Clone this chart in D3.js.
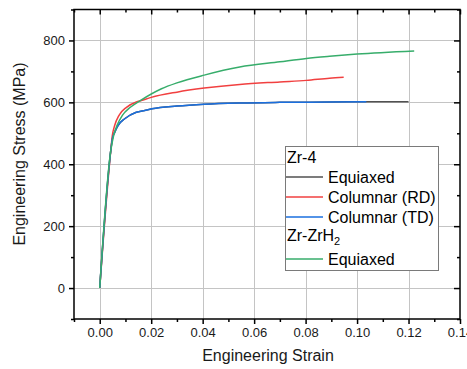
<!DOCTYPE html>
<html>
<head>
<meta charset="utf-8">
<script src="https://cdn.jsdelivr.net/npm/d3@7"></script>
<style>
	body { margin: 0; background: #fff; }
	svg { display: block; font-family: 'Liberation Sans', Arial, sans-serif; }
</style>
</head>
<body>
<div id="chart"></div>
<script>
// values
var strainEquiaxed = [0, 0.0043, 0.0049, 0.0058, 0.0071, 0.0097, 0.0142, 0.0175, 0.0203, 0.03, 0.0406, 0.0544, 0.07, 0.0893, 0.1036, 0.12];
var stressEquiaxed = [0, 445, 482, 503, 525, 547, 568, 574, 579, 588, 594, 598, 600, 601, 602, 602];
var strainRD = [0, 0.0043, 0.0049, 0.0058, 0.0075, 0.0104, 0.0142, 0.0162, 0.02, 0.03, 0.0406, 0.0544, 0.07, 0.0803, 0.0893, 0.0948];
var stressRD = [0, 445, 493, 525, 558, 584, 601, 606, 616, 633, 646, 658, 666, 671, 678, 681];
var strainTD = [0, 0.0043, 0.0049, 0.0058, 0.0071, 0.0097, 0.0142, 0.0175, 0.0203, 0.03, 0.0406, 0.0544, 0.07, 0.0893, 0.1036];
var stressTD = [0, 445, 482, 503, 525, 547, 568, 574, 579, 588, 594, 598, 600, 601, 602];
var strainHydride = [0, 0.0043, 0.0054, 0.0067, 0.0088, 0.0119, 0.0162, 0.024, 0.03, 0.0406, 0.0544, 0.07, 0.0803, 0.0893, 0.1, 0.1222];
var stressHydride = [0, 445, 493, 525, 558, 584, 608, 644, 663, 688, 714, 731, 742, 749, 756, 766];

var xMajor = [0, 0.02, 0.04, 0.06, 0.08, 0.10, 0.12, 0.14];
var xMinor = [-0.01, 0.01, 0.03, 0.05, 0.07, 0.09, 0.11, 0.13];
var yMajor = [0, 200, 400, 600, 800];
var yMinor = [-100, 100, 300, 500, 700, 900];

var width = 467, height = 369;
var box = { left: 74, right: 460, top: 9.5, bottom: 319 };

var xScale = d3.scaleLinear().domain([-0.01, 0.14]).range([box.left, box.right]);
var yScale = d3.scaleLinear().domain([-100, 900]).range([box.bottom, box.top]);

var svg = d3.select('#chart')
			.append('svg')
			.attr('width', width)
			.attr('height', height);

// grid
svg.append('g')
	.selectAll('line')
	.data(xMajor.slice(0, -1))
	.enter()
	.append('line')
	.attr('x1', function(d){ return Math.round(xScale(d)) + 0.5; })
	.attr('x2', function(d){ return Math.round(xScale(d)) + 0.5; })
	.attr('y1', box.top)
	.attr('y2', box.bottom)
	.attr('stroke', '#c4c4c4');
svg.append('g')
	.selectAll('line')
	.data(yMajor)
	.enter()
	.append('line')
	.attr('y1', function(d){ return Math.round(yScale(d)) + 0.5; })
	.attr('y2', function(d){ return Math.round(yScale(d)) + 0.5; })
	.attr('x1', box.left)
	.attr('x2', box.right)
	.attr('stroke', '#c4c4c4');

// axes, major + minor
function addAxis(axisFn, scale, values, size, transform, labels, fmt) {
	var ax = axisFn(scale).tickValues(values).tickSizeInner(size).tickSizeOuter(0);
	if (labels) ax.tickFormat(d3.format(fmt)).tickPadding(4);
	else ax.tickFormat('');
	var g = svg.append('g')
		.attr('transform', transform)
		.call(ax);
	g.select('.domain').remove();
	g.selectAll('line').attr('stroke', '#000').attr('stroke-width', 1.5);
	g.selectAll('text').attr('font-size', '13px').attr('fill', '#1a1a1a').attr('font-family', "'Liberation Sans', Arial, sans-serif");
	return g;
}
addAxis(d3.axisBottom, xScale, xMajor, 5, 'translate(0,' + box.bottom + ')', true, '.2f');
addAxis(d3.axisBottom, xScale, xMinor, 3, 'translate(0,' + box.bottom + ')', false);
addAxis(d3.axisLeft, yScale, yMajor, 5, 'translate(' + box.left + ',0)', true, 'd');
addAxis(d3.axisLeft, yScale, yMinor, 3, 'translate(' + box.left + ',0)', false);
addAxis(d3.axisBottom, xScale, xMajor, 5, 'translate(0,' + box.top + ')', false);
addAxis(d3.axisBottom, xScale, xMinor, 3, 'translate(0,' + box.top + ')', false);
addAxis(d3.axisLeft, yScale, yMajor, 6, 'translate(' + box.right + ',0)', false);
addAxis(d3.axisLeft, yScale, yMinor, 3, 'translate(' + box.right + ',0)', false);

// curves
var series = [
	{ name: 'Equiaxed', x: strainEquiaxed, y: stressEquiaxed, color: '#515151' },
	{ name: 'Columnar (RD)', x: strainRD, y: stressRD, color: '#f14040' },
	{ name: 'Columnar (TD)', x: strainTD, y: stressTD, color: '#1a6fdf' },
	{ name: 'Equiaxed', x: strainHydride, y: stressHydride, color: '#37ad6b' }
];

var linePath = d3.line()
				.x(function(d){ return xScale(d[0]); })
				.y(function(d){ return yScale(d[1]); })
				.curve(d3.curveMonotoneX);

svg.append('g')
	.selectAll('path')
	.data(series)
	.enter()
	.append('path')
	.attr('d', function(s){ return linePath(d3.zip(s.x, s.y)); })
	.attr('fill', 'none')
	.attr('stroke-width', 1.5)
	.attr('stroke', function(s){ return s.color; });

// frame
svg.append('rect')
	.attr('x', box.left)
	.attr('y', box.top)
	.attr('width', box.right - box.left)
	.attr('height', box.bottom - box.top)
	.attr('fill', 'none')
	.attr('stroke', '#000')
	.attr('stroke-width', 1.5);

// axis titles
svg.append('text')
	.attr('x', (box.left + box.right) / 2 + 1)
	.attr('y', 361)
	.attr('text-anchor', 'middle')
	.attr('font-size', '16px')
	.attr('fill', '#1a1a1a')
	.text('Engineering Strain');
svg.append('text')
	.attr('transform', 'translate(25,154) rotate(-90)')
	.attr('text-anchor', 'middle')
	.attr('font-size', '16px')
	.attr('fill', '#1a1a1a')
	.text('Engineering Stress (MPa)');

// legend
var legend = svg.append('g');
legend.append('rect')
	.attr('x', 285.5)
	.attr('y', 146.5)
	.attr('width', 153)
	.attr('height', 124)
	.attr('fill', '#fff')
	.attr('stroke', '#7a7a7a')
	.attr('stroke-width', 1);

legend.append('text')
	.attr('x', 287)
	.attr('y', 163)
	.attr('font-size', '16px')
	.attr('fill', '#000')
	.text('Zr-4');
var title2 = legend.append('text')
	.attr('x', 287)
	.attr('y', 241)
	.attr('font-size', '16px')
	.attr('fill', '#000');
title2.append('tspan').text('Zr-ZrH');
title2.append('tspan').attr('font-size', '11px').attr('dy', 4).text('2');

var rows = [177, 197, 217, 259];
series.forEach(function(s, i){
	legend.append('line')
		.attr('x1', 286)
		.attr('x2', 323)
		.attr('y1', rows[i])
		.attr('y2', rows[i])
		.attr('stroke', s.color)
		.attr('stroke-width', 1.5);
	legend.append('text')
		.attr('x', 328)
		.attr('y', rows[i] + 6)
		.attr('font-size', '16px')
		.attr('fill', '#000')
		.text(s.name);
});
</script>
</body>
</html>
